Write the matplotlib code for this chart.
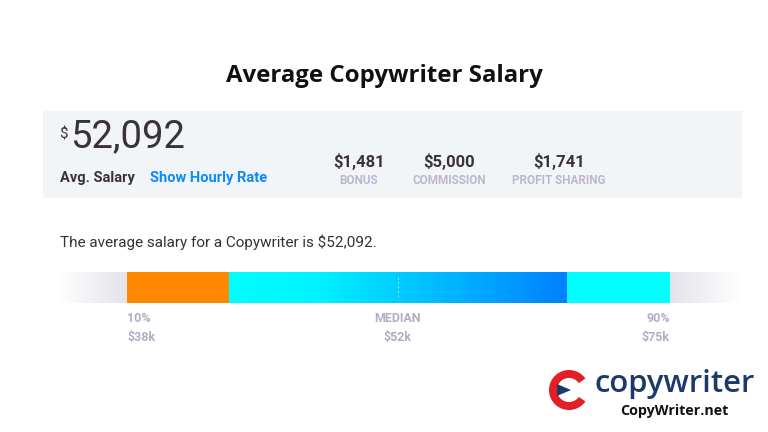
import matplotlib
matplotlib.use("Agg")
import matplotlib.pyplot as plt
import numpy as np
from matplotlib.patches import Rectangle, Wedge, Polygon
from matplotlib.colors import LinearSegmentedColormap

# ---- data ----
title = "Average Copywriter Salary"
avg_salary = "52,092"
extra_values = ["$1,481", "$5,000", "$1,741"]
extra_labels = ["BONUS", "COMMISSION", "PROFIT SHARING"]
pct_labels = ["10%", "MEDIAN", "90%"]
pct_values = ["$38k", "$52k", "$75k"]
segment_shares = [0.188, 0.622, 0.190]   # orange, gradient, cyan
median_share = 0.499

W, H = 768, 432
fig = plt.figure(figsize=(W / 100, H / 100), dpi=100)
ax = fig.add_axes([0, 0, 1, 1])
ax.set_xlim(0, W)
ax.set_ylim(H, 0)
ax.axis("off")
fig.patch.set_facecolor("white")

# title
ax.text(384, 76, title, ha="center", va="center", fontsize=17.3,
        fontweight="bold", family="Open Sans", color="#111111")

# panel
ax.add_patch(Rectangle((43, 111), 699, 87, facecolor="#F2F5F8", edgecolor="none"))

ax.text(59, 135, "$", ha="left", va="center", fontsize=11, family="Roboto", color="#3a3236")
ax.text(70, 137, avg_salary, ha="left", va="center", fontsize=27.5, family="Roboto",
        fontweight="normal", color="#3a3236")
ax.text(60, 178, "Avg. Salary", ha="left", va="center", fontsize=10.5, family="Roboto",
        fontweight="bold", color="#3a3236")
ax.text(150, 178, "Show Hourly Rate", ha="left", va="center", fontsize=10.5, family="Roboto",
        fontweight="bold", color="#0A8AFF")

xs = [359, 449, 559]
for x, v, l in zip(xs, extra_values, extra_labels):
    ax.text(x, 161, v, ha="center", va="center", fontsize=12, family="Roboto",
            fontweight="bold", color="#3a3236")
    ax.text(x, 180, l, ha="center", va="center", fontsize=8.5, family="Roboto",
            fontweight="bold", color="#BDB6CE")

ax.text(60, 242, "The average salary for a Copywriter is $52,092.", ha="left", va="center",
        fontsize=11, family="Roboto", color="#333333")

# bar
bx0, bx1, by0, by1 = 127, 670, 272, 303
bw = bx1 - bx0
fade_l = np.linspace(0, 1, 64)[None, :]
fcm = LinearSegmentedColormap.from_list("f", ["#FFFFFF", "#E4E3EA"])
ax.imshow(fade_l, cmap=fcm, extent=(58, bx0, by1, by0), aspect="auto", zorder=1)
ax.imshow(fade_l[:, ::-1], cmap=fcm, extent=(bx1, 742, by1, by0), aspect="auto", zorder=1)

lefts = bx0 + bw * np.concatenate([[0], np.cumsum(segment_shares)[:-1]])
widths = bw * np.array(segment_shares)
ax.barh((by0 + by1) / 2, widths[0], left=lefts[0], height=by1 - by0, color="#FF8800", zorder=2)
ax.barh((by0 + by1) / 2, widths[2], left=lefts[2], height=by1 - by0, color="#00FFFF", zorder=2)
gcm = LinearSegmentedColormap.from_list("g", [(0, "#00FFFF"), (0.25, "#00F4FF"), (1, "#0080FF")])
grad = np.linspace(0, 1, 256)[None, :]
ax.imshow(grad, cmap=gcm, extent=(lefts[1], lefts[1] + widths[1], by1, by0), aspect="auto", zorder=2)
mx = bx0 + bw * median_share
ax.plot([mx, mx], [by0 + 5, by1 - 5], ls=(0, (2, 2)), color="#7FE8FF", lw=0.8, zorder=3)

lab_x = [bx0, mx, bx1]
has = ["left", "center", "right"]
for x, ha, l, v in zip(lab_x, has, pct_labels, pct_values):
    ax.text(x, 318, l, ha=ha, va="center", fontsize=9, family="Roboto", fontweight="bold",
            color="#B3ACC5")
    ax.text(x, 337, v, ha=ha, va="center", fontsize=9, family="Roboto", fontweight="bold",
            color="#B3ACC5")

# logo
cx, cy, r = 569, 390, 20
ax.add_patch(Wedge((cx, cy), r, 35, 325, width=8, facecolor="#E31E24", edgecolor="none"))
ax.add_patch(Polygon([[cx - 12, cy - 6], [cx - 12, cy + 6], [cx + 2, cy]], closed=True,
                     facecolor="#1B3A6B", edgecolor="none"))
ax.text(594, 384, "copywriter", ha="left", va="center", fontsize=22.3, family="Open Sans",
        fontweight="semibold", color="#1B3A6B")
ax.text(674, 411, "CopyWriter.net", ha="center", va="center", fontsize=10.3, family="Open Sans",
        fontweight="bold", color="#111111")

fig.savefig("out.png", dpi=100, facecolor="white")
